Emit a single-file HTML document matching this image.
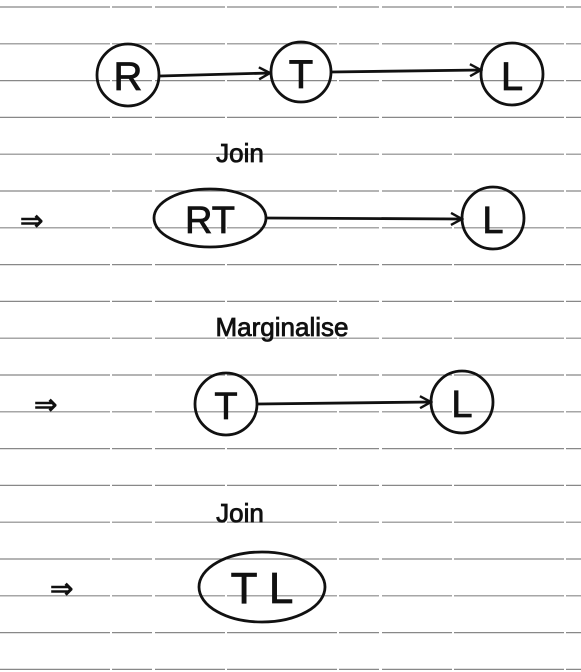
<!DOCTYPE html>
<html><head><meta charset="utf-8"><style>
html,body{margin:0;padding:0;background:#fff;width:581px;height:672px;overflow:hidden}
svg{display:block}
text{font-family:"Liberation Sans",sans-serif;fill:#111;stroke:#111;stroke-width:0.8}
</style></head><body>
<svg width="581" height="672" viewBox="0 0 581 672">
<defs><marker id="ah" markerWidth="14" markerHeight="14" refX="12" refY="7" orient="auto" markerUnits="userSpaceOnUse"><path d="M1,1 L12,7 L1,13" fill="none" stroke="#111" stroke-width="2.4"/></marker></defs>
<g id="lines" stroke="#888" stroke-width="1.2" stroke-dasharray="110 2 40 3 70 2"></g>
<g stroke="#111" stroke-width="2.8" fill="none">
<circle cx="128" cy="75" r="31"/>
<line x1="160" y1="76" x2="270" y2="73" marker-end="url(#ah)"/>
<circle cx="301" cy="72" r="30"/>
<line x1="331" y1="72" x2="481" y2="70" marker-end="url(#ah)"/>
<circle cx="512" cy="74" r="31"/>
<ellipse cx="210" cy="218" rx="56" ry="29"/>
<line x1="266" y1="218" x2="462" y2="219" marker-end="url(#ah)"/>
<circle cx="493" cy="218" r="31"/>
<circle cx="226" cy="404" r="31"/>
<line x1="258" y1="404" x2="431" y2="402" marker-end="url(#ah)"/>
<circle cx="462" cy="402" r="31"/>
<ellipse cx="262" cy="587" rx="63" ry="35"/>
</g>
<text x="128" y="90" font-size="40" text-anchor="middle">R</text>
<text x="301" y="88" font-size="40" text-anchor="middle">T</text>
<text x="512" y="90" font-size="40" text-anchor="middle">L</text>
<text x="240" y="162" font-size="26" text-anchor="middle">Join</text>
<text x="20" y="230" font-size="28">⇒</text>
<text x="210" y="233" font-size="38" text-anchor="middle">RT</text>
<text x="493" y="233" font-size="38" text-anchor="middle">L</text>
<text x="282" y="336" font-size="26" text-anchor="middle">Marginalise</text>
<text x="34" y="414" font-size="28">⇒</text>
<text x="226" y="419" font-size="38" text-anchor="middle">T</text>
<text x="462" y="417" font-size="38" text-anchor="middle">L</text>
<text x="240" y="522" font-size="26" text-anchor="middle">Join</text>
<text x="50" y="598" font-size="28">⇒</text>
<text x="262" y="603" font-size="44" text-anchor="middle">T L</text>
</svg>
<script>
const g=document.getElementById('lines');
for(let k=0;k<19;k++){const y=7+36.8*k;const l=document.createElementNS('http://www.w3.org/2000/svg','line');
l.setAttribute('x1',0);l.setAttribute('x2',581);l.setAttribute('y1',y);l.setAttribute('y2',y);


g.appendChild(l);}
</script>
</body></html>
